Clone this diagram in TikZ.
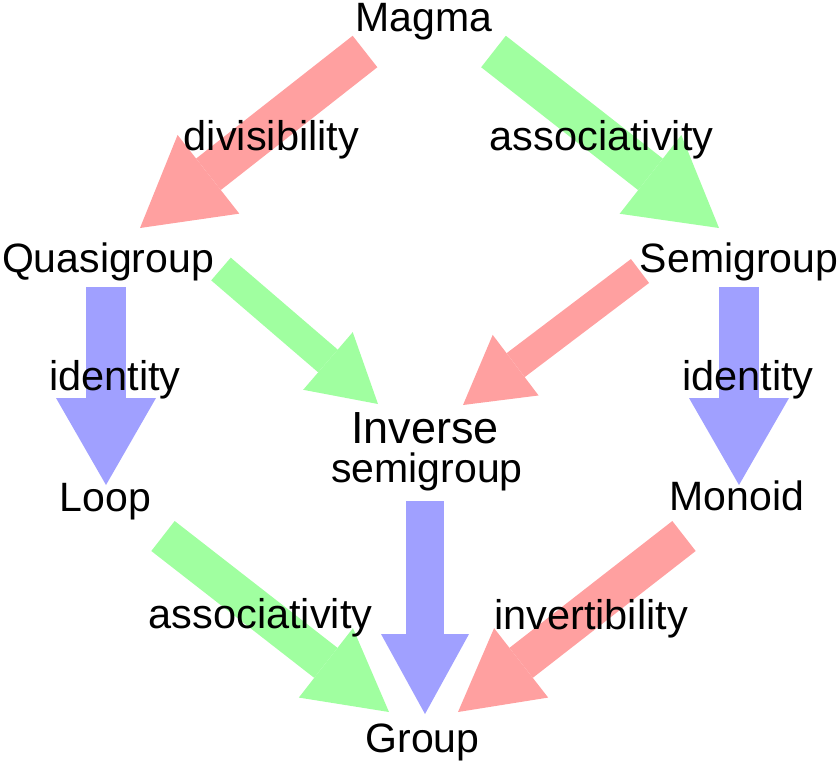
\documentclass[tikz,border=0pt]{standalone}
\usepackage{fontspec}
\setmainfont{Liberation Sans}
\usetikzlibrary{arrows.meta, positioning, calc, backgrounds}
\definecolor{redarr}{RGB}{255,160,160}
\definecolor{greenarr}{RGB}{160,255,160}
\definecolor{bluearr}{RGB}{160,160,255}
\tikzset{
  term/.style={font=\fontsize{41}{49}\selectfont, inner sep=0pt, anchor=base},
  prop/.style={font=\fontsize{41.5}{49}\selectfont, inner sep=0pt, anchor=base},
  bigarrow/.style={line width=40pt, -{Triangle[length=87pt, width=100pt, line width=0pt]}},
  midarrow/.style={line width=38pt, -{Triangle[length=80pt, width=88pt, line width=0pt]}},
  smallarrow/.style={line width=30pt, -{Triangle[length=66pt, width=76pt, line width=0pt]}}
}

\begin{document}
\begin{tikzpicture}[x=1pt, y=-1pt]
    \useasboundingbox (0,0) rectangle (840,761);

    % structures
    \node[term] (magma) at (424,31) {Magma};
    \node[term] (quasi) at (108,272) {Quasigroup};
    \node[term] (semi) at (739,272) {Semigroup};
    \node[term, font=\fontsize{45}{54}\selectfont] (inv) at (425,443) {Inverse};
    \node[term] (invsg) at (427,482) {semigroup};
    \node[term] (loop) at (105.5,511) {Loop};
    \node[term] (monoid) at (737,510) {Monoid};
    \node[term] (group) at (422.5,752) {Group};

    % properties
    \node[prop] (divis) at (271.5,150) {divisibility};
    \node[prop] (assocA) at (601.5,150) {associativity};
    \node[prop] (identL) at (115,390) {identity};
    \node[prop] (identR) at (748,390) {identity};
    \node[prop] (assocB) at (260.5,628) {associativity};
    \node[prop] (invert) at (591,629) {invertibility};

    % arrows
    \begin{scope}[on background layer]
    \draw[bigarrow, redarr] ($(magma.base)+(-59,20.5)$) -- ($(quasi.base)+(32,-44)$);
    \draw[bigarrow, greenarr] ($(magma.base)+(69.5,20.5)$) -- ($(semi.base)+(-20,-44)$);
    \draw[bigarrow, bluearr] ($(quasi.base)+(-2,15)$) -- ($(loop.base)+(0.5,-26)$);
    \draw[bigarrow, bluearr] ($(semi.base)+(0,15)$) -- ($(monoid.base)+(2,-25)$);
    \draw[smallarrow, greenarr] ($(quasi.base)+(113,-3)$) -- ($(inv.base)+(-47,-39)$);
    \draw[smallarrow, redarr] ($(semi.base)+(-99,-1)$) -- ($(inv.base)+(38,-38)$);
    \draw[midarrow, bluearr] ($(invsg.base)+(-2,19)$) -- ($(group.base)+(2.5,-38)$);
    \draw[midarrow, greenarr] ($(loop.base)+(57.5,25)$) -- ($(group.base)+(-33.5,-40)$);
    \draw[midarrow, redarr] ($(monoid.base)+(-53,26)$) -- ($(group.base)+(35.5,-40)$);
    \end{scope}
\end{tikzpicture}
\end{document}
